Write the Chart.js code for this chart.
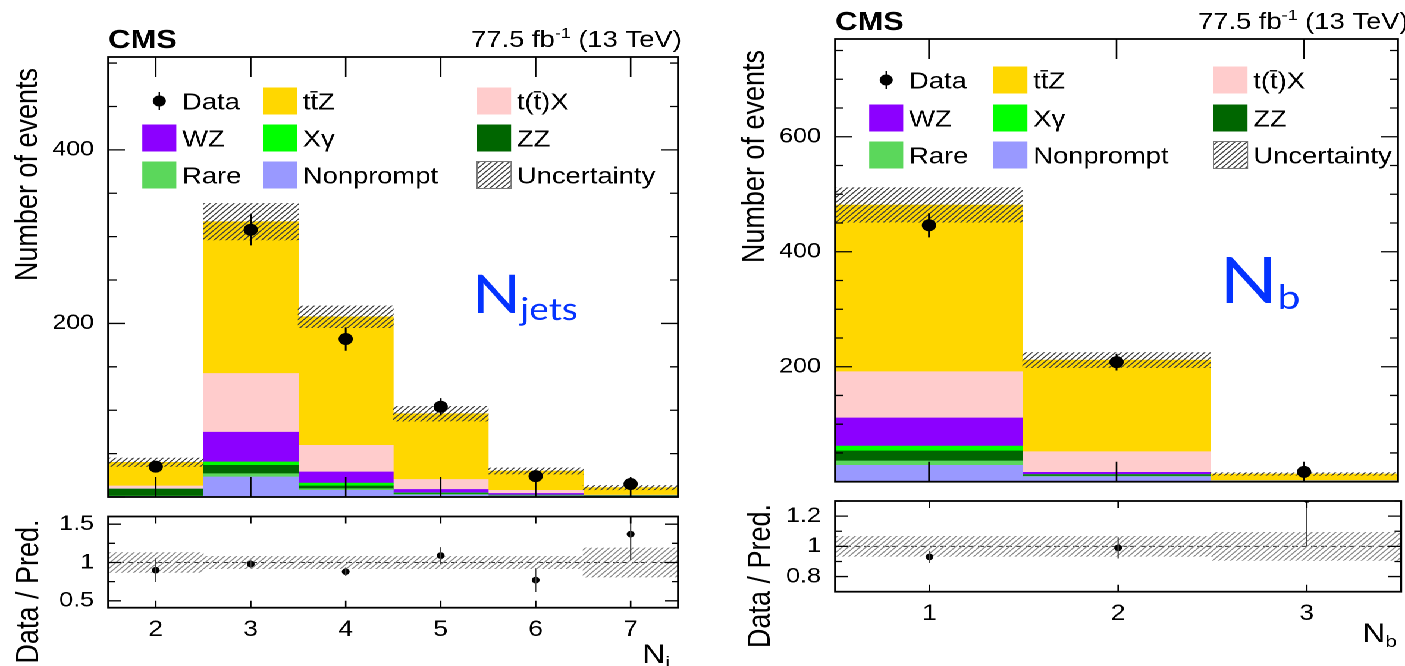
<!DOCTYPE html>
<html>
<head>
<meta charset="utf-8">
<script src="https://cdn.jsdelivr.net/npm/chart.js@4.4.1/dist/chart.umd.min.js"></script>
<style>
  html, body { margin: 0; padding: 0; background: #fff; overflow: hidden; }
  #page { position: absolute; left: 0; top: 0; width: 1181px; height: 666px; transform-origin: 0 0; transform: scaleX(1.1897); }
  #page canvas { position: absolute; left: 0; top: 0; }
</style>
</head>
<body>
<div id="page">
  <canvas id="njetsMain" width="1181" height="666"></canvas>
  <canvas id="njetsRatio" width="1181" height="666"></canvas>
  <canvas id="nbMain" width="1181" height="666"></canvas>
  <canvas id="nbRatio" width="1181" height="666"></canvas>
</div>
<script>
// ---- N_jets distribution ----
const njetsBins      = ['2', '3', '4', '5', '6', '7'];
const njetsNonprompt = [0.8, 23.1, 7.7, 2.5, 1.2, 0.3];
const njetsRare      = [0.2, 3.8, 1.9, 0.5, 0.3, 0.1];
const njetsZZ        = [8.0, 9.6, 3.1, 0.8, 0.4, 1.0];
const njetsXgamma    = [0.1, 3.9, 3.4, 0.9, 0.3, 0.1];
const njetsWZ        = [0.1, 34.2, 12.7, 4.0, 1.9, 0.2];
const njetsTX        = [3.5, 67.7, 30.8, 11.5, 3.6, 0.5];
const njetsTTZ       = [27.3, 174.9, 148.0, 75.8, 22.3, 8.6];
const njetsUnc       = [4.8, 21.0, 12.5, 8.5, 3.5, 2.5];
const njetsData      = [35, 308, 182, 104, 24, 15];
const njetsDataErr   = [6, 18, 13.5, 10, 5, 4];
const njetsRatio      = [0.90, 0.98, 0.88, 1.09, 0.77, 1.37];
const njetsRatioErrLo = [0.155, 0.05, 0.055, 0.11, 0.155, 0.34];
const njetsRatioErrHi = [0.155, 0.05, 0.055, 0.11, 0.155, 0.40];
const njetsRatioUnc   = [0.13, 0.08, 0.08, 0.08, 0.08, 0.19];
const njetsYTicks     = [0, 200, 400];
const njetsRatioTicks = [0.5, 1, 1.5];

// ---- N_b distribution ----
const nbBins      = ['1', '2', '3'];
const nbNonprompt = [28.5, 8.7, 1.0];
const nbRare      = [7.5, 1.0, 0.1];
const nbZZ        = [17.4, 2.0, 0.2];
const nbXgamma    = [8.6, 0.6, 0.1];
const nbWZ        = [48.8, 4.0, 0.2];
const nbTX        = [80.5, 35.9, 0.6];
const nbTTZ       = [290.0, 159.4, 11.2];
const nbUnc       = [30, 13, 2.3];
const nbData      = [446, 208, 17];
const nbDataErr   = [21, 14.5, 4.1];
const nbRatio      = [0.93, 0.99, 1.31];
const nbRatioErrLo = [0.04, 0.07, 0.31];
const nbRatioErrHi = [0.04, 0.07, 0.35];
const nbRatioUnc   = [0.066, 0.066, 0.093];
const nbYTicks     = [0, 200, 400, 600];
const nbRatioTicks = [0.8, 1, 1.2];

// stack order, bottom first
const processNames  = ['Nonprompt', 'Rare', 'ZZ', 'X\u03b3', 'WZ', 't(t\u0304)X', 'tt\u0304Z'];
const processColors = ['#9999ff', '#5bd75b', '#006600', '#00ff00', '#8c00ff', '#ffcccc', '#ffd700'];
const legendOrder   = ['Data', 'tt\u0304Z', 't(t\u0304)X', 'WZ', 'X\u03b3', 'ZZ', 'Rare', 'Nonprompt', 'Uncertainty'];

const W = 1181, H = 666;
const FONT = '"Liberation Sans", Arial, Helvetica, sans-serif';
Chart.defaults.font.family = FONT;
Chart.defaults.color = '#000';

function hatch(color, gap) {
  const k = 2;
  const s = gap * k;
  const c = document.createElement('canvas');
  c.width = c.height = s;
  const g = c.getContext('2d');
  g.strokeStyle = color;
  g.lineWidth = 1.1 * k;
  g.beginPath();
  for (const o of [-s, 0, s]) { g.moveTo(o, s); g.lineTo(o + s, 0); }
  g.stroke();
  const p = g.createPattern(c, 'repeat');
  p.setTransform(new DOMMatrix([1 / k, 0, 0, 1 / k, 0, 0]));
  return p;
}
const mainHatch = hatch('#3c3c3c', 5);
const ratioHatch = hatch('#8a8a8a', 5);

function drawRuns(ctx, runs, x, y, align) {
  let w = 0;
  runs.forEach(r => { ctx.font = r.font; r.w = ctx.measureText(r.text).width; w += r.w; });
  let cx = align === 'right' ? x - w : x;
  ctx.textAlign = 'left';
  ctx.textBaseline = 'alphabetic';
  runs.forEach(r => {
    ctx.font = r.font;
    ctx.fillStyle = r.color || '#000';
    ctx.fillText(r.text, cx, y + (r.dy || 0));
    cx += r.w;
  });
}

function drawVerticalTitle(ctx, text, x, yEnd, size) {
  ctx.save();
  ctx.translate(x, yEnd);
  ctx.rotate(-Math.PI / 2);
  ctx.font = size + 'px ' + FONT;
  ctx.fillStyle = '#000';
  ctx.textAlign = 'right';
  ctx.textBaseline = 'alphabetic';
  ctx.fillText(text, 0, 0);
  ctx.restore();
}

// ROOT-like frame, inner ticks, error bars, texts and legend
const cmsFrame = {
  id: 'cmsFrame',
  beforeDatasetsDraw(chart, args, o) {
    if (!o.unity) return;
    const { ctx, chartArea: a } = chart;
    const y = chart.scales.y.getPixelForValue(1);
    ctx.save();
    ctx.strokeStyle = '#333';
    ctx.lineWidth = 1;
    ctx.setLineDash([5, 3]);
    ctx.beginPath(); ctx.moveTo(a.left, y); ctx.lineTo(a.right, y); ctx.stroke();
    ctx.restore();
  },
  afterDatasetsDraw(chart) {
    const { ctx, chartArea: a } = chart;
    ctx.save();
    ctx.beginPath(); ctx.rect(a.left, a.top, a.right - a.left, a.bottom - a.top); ctx.clip();
    chart.data.datasets.forEach((ds, i) => {
      if (!ds.errLo) return;
      const meta = chart.getDatasetMeta(i);
      const xs = chart.scales[meta.xAxisID], ys = chart.scales[meta.yAxisID];
      ctx.strokeStyle = ds.errColor;
      ctx.lineWidth = ds.errWidth;
      ctx.beginPath();
      ds.data.forEach((v, j) => {
        const x = xs.getPixelForValue(j);
        ctx.moveTo(x, ys.getPixelForValue(v - ds.errLo[j]));
        ctx.lineTo(x, ys.getPixelForValue(v + ds.errHi[j]));
      });
      ctx.stroke();
    });
    ctx.restore();
  },
  afterDraw(chart, args, o) {
    const { ctx, chartArea: a } = chart;
    const xs = chart.scales.x, ys = chart.scales.y;
    ctx.save();
    ctx.strokeStyle = '#000';
    ctx.lineWidth = 1.3;
    ctx.beginPath();
    xs.ticks.forEach((t, i) => {
      const px = xs.getPixelForTick(i);
      ctx.moveTo(px, a.bottom); ctx.lineTo(px, a.bottom - o.xTick);
      ctx.moveTo(px, a.top); ctx.lineTo(px, a.top + o.xTick);
    });
    ys.ticks.forEach(t => {
      const py = ys.getPixelForValue(t.value);
      ctx.moveTo(a.left, py); ctx.lineTo(a.left + o.yMajor, py);
      ctx.moveTo(a.right, py); ctx.lineTo(a.right - o.yMajor, py);
    });
    const k0 = Math.ceil(ys.min / o.minorStep - 1e-6), k1 = Math.floor(ys.max / o.minorStep + 1e-6);
    for (let k = k0; k <= k1; k++) {
      const py = ys.getPixelForValue(k * o.minorStep);
      ctx.moveTo(a.left, py); ctx.lineTo(a.left + o.yMinor, py);
      ctx.moveTo(a.right, py); ctx.lineTo(a.right - o.yMinor, py);
    }
    ctx.stroke();
    ctx.lineWidth = 1.8;
    ctx.strokeRect(a.left, a.top, a.right - a.left, a.bottom - a.top);

    if (o.yTitle) drawVerticalTitle(ctx, o.yTitle.text, a.left - o.yTitle.dx, a.top + o.yTitle.dy, 27);
    (o.texts || []).forEach(t => drawRuns(ctx, t.runs, t.x, t.y, t.align));

    const lg = o.legend;
    if (lg) {
      const sw = 28.6, sh = 27;
      legendOrder.forEach((name, i) => {
        const x0 = a.left + lg.cols[i % 3];
        const yc = a.top + lg.rows[Math.floor(i / 3)];
        if (name === 'Data') {
          const cx = x0 + sw / 2;
          ctx.strokeStyle = '#000'; ctx.lineWidth = 1.2;
          ctx.beginPath(); ctx.moveTo(cx, yc - 9); ctx.lineTo(cx, yc + 9); ctx.stroke();
          ctx.fillStyle = '#000';
          ctx.beginPath(); ctx.arc(cx, yc, 5.5, 0, Math.PI * 2); ctx.fill();
        } else if (name === 'Uncertainty') {
          ctx.fillStyle = mainHatch; ctx.fillRect(x0, yc - sh / 2, sw, sh);
          ctx.strokeStyle = '#777'; ctx.lineWidth = 1;
          ctx.strokeRect(x0, yc - sh / 2, sw, sh);
        } else {
          const ds = chart.data.datasets.find(d => d.label === name);
          ctx.fillStyle = ds.backgroundColor;
          ctx.fillRect(x0, yc - sh / 2, sw, sh);
        }
        drawRuns(ctx, [{ text: name, font: '23px ' + FONT }], x0 + lg.textGap, yc + 8.3, 'left');
      });
    }
    ctx.restore();
  }
};

function stackTotals(stacks) {
  return stacks[0].map((_, i) => stacks.reduce((s, arr) => s + arr[i], 0));
}

// full-width bins, every bar centred on its own category
const binBar = { type: 'bar', borderWidth: 0, categoryPercentage: 1, barPercentage: 1, grouped: false };

function mainChart(id, c) {
  const totals = stackTotals(c.stacks);
  const datasets = [
    { type: 'line', label: 'Data', data: c.data, stack: 'obs', order: 0,
      showLine: false, pointRadius: 6, pointHoverRadius: 6, pointBackgroundColor: '#000', pointBorderWidth: 0,
      errLo: c.dataErr, errHi: c.dataErr, errColor: '#000', errWidth: 1.5 },
    Object.assign({ label: 'Uncertainty', data: totals.map((t, i) => [t - c.unc[i], t + c.unc[i]]),
      stack: 'unc', order: 1, backgroundColor: mainHatch }, binBar),
    ...c.stacks.map((vals, k) => Object.assign({ label: processNames[k], data: vals,
      stack: 'mc', order: 2, backgroundColor: processColors[k] }, binBar))
  ];
  const box = c.box;
  return new Chart(document.getElementById(id), {
    type: 'bar',
    data: { labels: c.bins, datasets },
    options: {
      responsive: false, animation: false, events: [], devicePixelRatio: 2,
      layout: { padding: { left: box.left - 80, top: box.top, right: W - box.right, bottom: H - box.bottom } },
      scales: {
        x: { type: 'category', display: false, stacked: true, offset: true },
        y: {
          stacked: true, min: 0, max: c.yMax,
          afterFit: s => { s.width = 80; },
          afterBuildTicks: s => { s.ticks = c.yTicks.map(v => ({ value: v })); },
          grid: { display: false }, border: { display: false },
          ticks: { callback: v => (v === 0 ? '' : String(v)), font: { size: 21 }, color: '#000', padding: 4 }
        }
      },
      plugins: {
        legend: { display: false }, tooltip: { enabled: false },
        cmsFrame: { xTick: 20, yMajor: 14, yMinor: 7, minorStep: 50,
          yTitle: { text: 'Number of events', dx: 60, dy: 11 },
          legend: c.legend, texts: c.texts }
      }
    },
    plugins: [cmsFrame]
  });
}

function ratioChart(id, c) {
  const box = c.box;
  return new Chart(document.getElementById(id), {
    type: 'bar',
    data: {
      labels: c.bins,
      datasets: [
        { type: 'line', label: 'Data / Pred.', data: c.ratio, order: 0, showLine: false,
          pointRadius: 3.3, pointHoverRadius: 3.3, pointBackgroundColor: '#000', pointBorderWidth: 0,
          errLo: c.errLo, errHi: c.errHi, errColor: '#444', errWidth: 1.1 },
        Object.assign({ label: 'Uncertainty', data: c.unc.map(u => [1 - u, 1 + u]), order: 1,
          backgroundColor: ratioHatch }, binBar)
      ]
    },
    options: {
      responsive: false, animation: false, events: [], devicePixelRatio: 2,
      layout: { padding: { left: box.left - 80, top: box.rTop, right: W - box.right, bottom: H - box.rBottom - 40 } },
      scales: {
        x: {
          type: 'category', offset: true,
          afterFit: s => { s.height = 40; },
          grid: { display: false }, border: { display: false },
          ticks: { font: { size: 22 }, color: '#000', padding: 1, maxRotation: 0, autoSkip: false }
        },
        y: {
          min: c.yMin, max: c.yMax,
          afterFit: s => { s.width = 80; },
          afterBuildTicks: s => { s.ticks = c.yTicks.map(v => ({ value: v })); },
          grid: { display: false }, border: { display: false },
          ticks: { callback: v => String(v), font: { size: 21 }, color: '#000', padding: 4 }
        }
      },
      plugins: {
        legend: { display: false }, tooltip: { enabled: false },
        cmsFrame: { unity: true, xTick: 7, yMajor: 11, yMinor: 5.5, minorStep: c.minorStep,
          yTitle: { text: 'Data / Pred.', dx: c.titleDx, dy: 3 },
          texts: [{ runs: [{ text: 'N', font: '27px ' + FONT }, { text: c.sub, font: '17px ' + FONT, dy: 5 }],
            x: box.right - 7, y: c.xTitleY, align: 'right' }] }
      }
    },
    plugins: [cmsFrame]
  });
}

function headerTexts(box, big) {
  return [
    { runs: [{ text: 'CMS', font: 'bold 26px ' + FONT }], x: box.left, y: box.top - 9, align: 'left' },
    { runs: [{ text: '77.5 fb', font: '23px ' + FONT }, { text: '-1', font: '15px ' + FONT, dy: -9 },
      { text: ' (13 TeV)', font: '23px ' + FONT }], x: box.right + 3, y: box.top - 10, align: 'right' },
    { runs: big, x: box.bigX, y: box.bigY, align: 'left' }
  ];
}

const njetsBox = { left: 91, right: 570, top: 57, bottom: 497, rTop: 516.5, rBottom: 607.7, bigX: 397, bigY: 313 };
const nbBox = { left: 702, right: 1181, top: 39, bottom: 481.7, rTop: 501, rBottom: 591.7, bigX: 1025, bigY: 303 };
const BLUE = '#0433ff';

mainChart('njetsMain', {
  box: njetsBox, bins: njetsBins,
  stacks: [njetsNonprompt, njetsRare, njetsZZ, njetsXgamma, njetsWZ, njetsTX, njetsTTZ],
  unc: njetsUnc, data: njetsData, dataErr: njetsDataErr, yMax: 507, yTicks: njetsYTicks,
  legend: { rows: [44, 81, 118], cols: [28.6, 130, 310], textGap: 33.5 },
  texts: headerTexts(njetsBox, [
    { text: 'N', font: '53px Lato, ' + FONT, color: BLUE },
    { text: 'jets', font: '31px Lato, ' + FONT, color: BLUE, dy: 7 }
  ])
});

ratioChart('njetsRatio', {
  box: njetsBox, bins: njetsBins, ratio: njetsRatio, errLo: njetsRatioErrLo, errHi: njetsRatioErrHi,
  unc: njetsRatioUnc, yMin: 0.41, yMax: 1.6, yTicks: njetsRatioTicks, minorStep: 0.25,
  titleDx: 59, sub: 'j', xTitleY: 663
});

mainChart('nbMain', {
  box: nbBox, bins: nbBins,
  stacks: [nbNonprompt, nbRare, nbZZ, nbXgamma, nbWZ, nbTX, nbTTZ],
  unc: nbUnc, data: nbData, dataErr: nbDataErr, yMax: 770, yTicks: nbYTicks,
  legend: { rows: [41, 79, 116], cols: [28.6, 133, 318], textGap: 33.5 },
  texts: headerTexts(nbBox, [
    { text: 'N', font: '64px Lato, ' + FONT, color: BLUE },
    { text: 'b', font: '34px Lato, ' + FONT, color: BLUE, dy: 6 }
  ])
});

ratioChart('nbRatio', {
  box: nbBox, bins: nbBins, ratio: nbRatio, errLo: nbRatioErrLo, errHi: nbRatioErrHi,
  unc: nbRatioUnc, yMin: 0.7, yMax: 1.3, yTicks: nbRatioTicks, minorStep: 0.1,
  titleDx: 55, sub: 'b', xTitleY: 642
});
</script>
</body>
</html>
